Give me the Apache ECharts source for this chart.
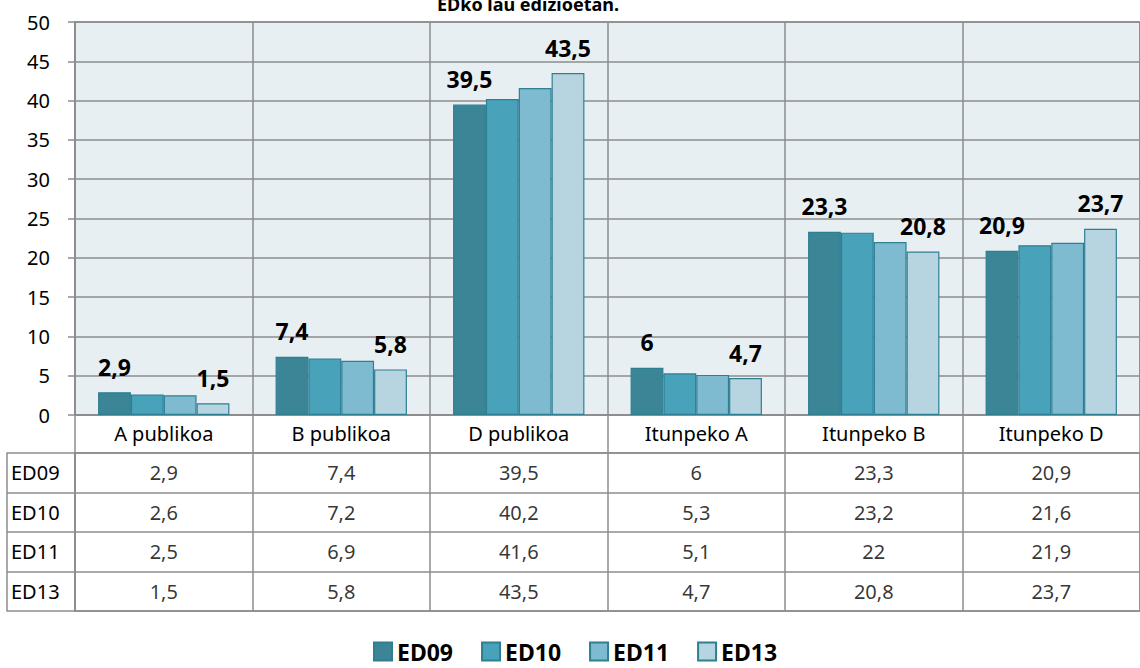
<!DOCTYPE html>
<html>
<head>
<meta charset="utf-8">
<script src="https://cdn.jsdelivr.net/npm/echarts@6/dist/echarts.min.js"></script>
<style>
  html, body { margin: 0; padding: 0; background: #fff; }
  #chart { width: 1140px; height: 668px; }
</style>
</head>
<body>
<div id="chart"></div>
<script>
var categories = ['A publikoa', 'B publikoa', 'D publikoa', 'Itunpeko A', 'Itunpeko B', 'Itunpeko D'];
var editions = ['ED09', 'ED10', 'ED11', 'ED13'];
var ed09 = [2.9, 7.4, 39.5, 6, 23.3, 20.9];
var ed10 = [2.6, 7.2, 40.2, 5.3, 23.2, 21.6];
var ed11 = [2.5, 6.9, 41.6, 5.1, 22, 21.9];
var ed13 = [1.5, 5.8, 43.5, 4.7, 20.8, 23.7];
var yTicks = { min: 0, max: 50, interval: 5 };

var seriesValues = [ed09, ed10, ed11, ed13];
var colors = ['#3b8597', '#47a2ba', '#7ebbd0', '#b7d5e1'];
var edge = '#2f7f93';
var gridLine = '#8c8c8c';
var font = 'Noto Sans';

function fmt(v) { return String(v).replace('.', ','); }

var chart = echarts.init(document.getElementById('chart'), null, { renderer: 'svg' });

var series = editions.map(function(name, i) {
  var showLabel = (i === 0 || i === editions.length - 1);
  return {
    name: name,
    type: 'bar',
    xAxisIndex: 0,
    yAxisIndex: 0,
    barGap: '0%',
    barCategoryGap: '26%',
    itemStyle: { color: colors[i], borderColor: edge, borderWidth: 1.2 },
    label: {
      show: showLabel,
      position: 'top',
      distance: 14,
      fontFamily: font,
      fontWeight: 'bold',
      fontSize: 23,
      color: '#000',
      formatter: function(p) { return fmt(p.value); }
    },
    data: seriesValues[i]
  };
});

// table cells below the chart
var cells = [];
editions.forEach(function(ed, r) {
  categories.forEach(function(c, k) {
    cells.push([c, ed, seriesValues[r][k]]);
  });
});
series.push({
  type: 'scatter',
  xAxisIndex: 1,
  yAxisIndex: 1,
  symbolSize: 1,
  silent: true,
  legendHoverLink: false,
  itemStyle: { color: 'rgba(0,0,0,0)' },
  label: {
    show: true,
    position: 'inside',
    fontFamily: font,
    fontSize: 20,
    color: '#000',
    formatter: function(p) { return fmt(p.value[2]); }
  },
  data: cells
});

chart.setOption({
  animation: false,
  title: {
    text: 'EDko lau edizioetan.',
    left: 432,
    top: -10,
    textStyle: { fontFamily: font, fontWeight: 'bold', fontSize: 18, color: '#000' }
  },
  legend: {
    data: editions,
    left: 368,
    bottom: 0,
    icon: 'rect',
    itemWidth: 18,
    itemHeight: 18,
    itemGap: 28,
    textStyle: { fontFamily: font, fontWeight: 'bold', fontSize: 23, color: '#000' }
  },
  grid: [
    { left: 75, top: 22, width: 1074, height: 393, show: true, backgroundColor: '#e8eff3', borderColor: gridLine, borderWidth: 1.5 },
    { left: 75, top: 453, width: 1074, height: 158, show: true, borderColor: gridLine, borderWidth: 1.5 }
  ],
  xAxis: [
    {
      type: 'category',
      gridIndex: 0,
      data: categories,
      axisLine: { lineStyle: { color: gridLine, width: 1.5 } },
      axisTick: { show: true, length: 38, alignWithLabel: false, lineStyle: { color: gridLine, width: 1.5 } },
      axisLabel: { fontFamily: font, fontSize: 20, color: '#000', margin: 8, interval: 0 },
      splitLine: { show: true, lineStyle: { color: gridLine, width: 1.5 } }
    },
    {
      type: 'category',
      gridIndex: 1,
      data: categories,
      axisLine: { show: false },
      axisTick: { show: false },
      axisLabel: { show: false },
      splitLine: { show: true, lineStyle: { color: gridLine, width: 1.5 } }
    }
  ],
  yAxis: [
    {
      type: 'value',
      gridIndex: 0,
      min: yTicks.min,
      max: yTicks.max,
      interval: yTicks.interval,
      axisLine: { show: true, lineStyle: { color: gridLine, width: 1.5 } },
      axisTick: { show: true, length: 7, lineStyle: { color: gridLine, width: 1.5 } },
      axisLabel: { fontFamily: font, fontSize: 20, color: '#000', margin: 25 },
      splitLine: { show: true, lineStyle: { color: gridLine, width: 1.5 } }
    },
    {
      type: 'category',
      gridIndex: 1,
      data: editions,
      inverse: true,
      axisLine: { show: true, lineStyle: { color: gridLine, width: 1.5 } },
      axisTick: { show: true, length: 68, alignWithLabel: false, lineStyle: { color: gridLine, width: 1.5 } },
      axisLabel: { fontFamily: font, fontSize: 20, color: '#000', align: 'left', margin: 64 },
      splitLine: { show: true, lineStyle: { color: gridLine, width: 1.5 } }
    },
    {
      type: 'category',
      gridIndex: 1,
      data: editions,
      inverse: true,
      position: 'left',
      offset: 68,
      axisLine: { show: true, lineStyle: { color: gridLine, width: 1.5 } },
      axisTick: { show: false },
      axisLabel: { show: false },
      splitLine: { show: false }
    }
  ],
  series: series
});
window.addEventListener('resize', function() { chart.resize(); });
</script>
</body>
</html>
